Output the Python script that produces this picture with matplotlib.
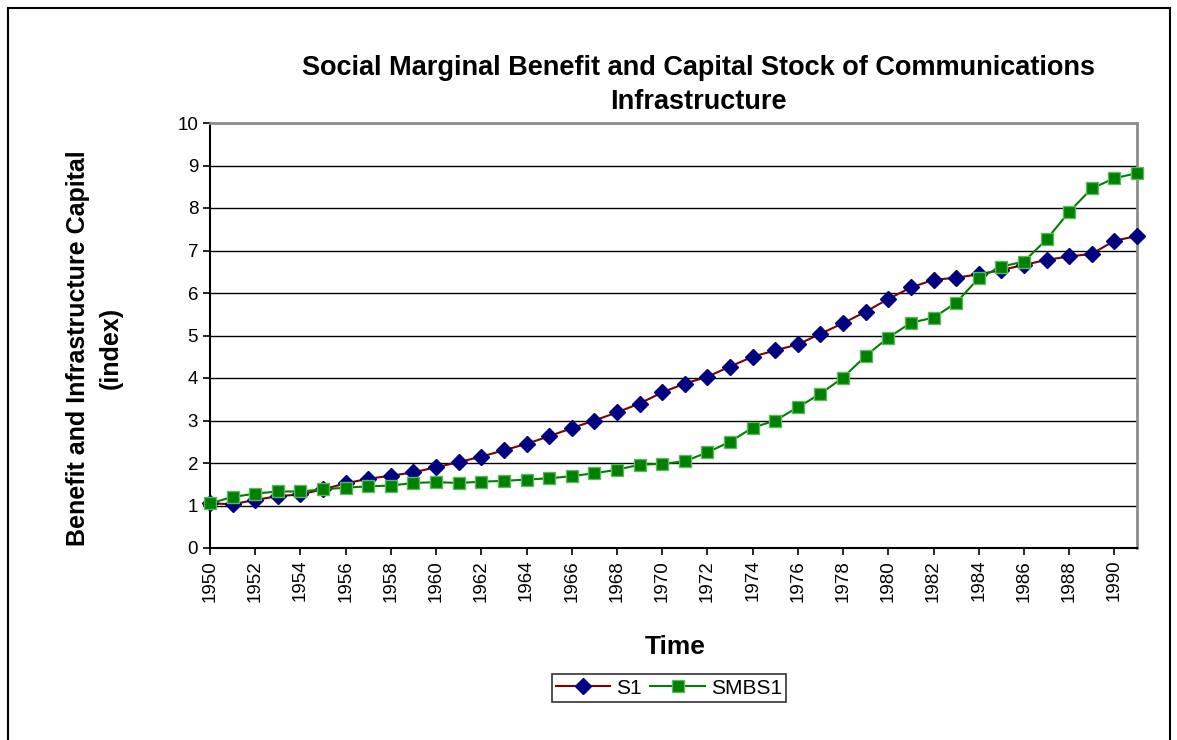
import matplotlib.pyplot as plt
from matplotlib.patches import Rectangle

plt.rcParams['font.family'] = ['Liberation Sans', 'DejaVu Sans']

# Дані
years = list(range(1950, 1992))
s1 = [1.05, 1.03, 1.13, 1.22, 1.26, 1.38, 1.52, 1.63, 1.70, 1.78, 1.90, 2.02,
      2.15, 2.30, 2.45, 2.63, 2.82, 3.00, 3.19, 3.40, 3.66, 3.87, 4.03, 4.27,
      4.50, 4.65, 4.79, 5.04, 5.29, 5.56, 5.86, 6.13, 6.31, 6.36, 6.44, 6.54,
      6.66, 6.78, 6.86, 6.92, 7.23, 7.34]
smbs1 = [1.05, 1.20, 1.28, 1.33, 1.33, 1.38, 1.42, 1.45, 1.47, 1.53, 1.55, 1.53,
         1.56, 1.58, 1.61, 1.64, 1.69, 1.76, 1.84, 1.96, 1.98, 2.04, 2.25, 2.50,
         2.83, 3.00, 3.31, 3.63, 4.01, 4.52, 4.95, 5.30, 5.42, 5.77, 6.35, 6.62,
         6.74, 7.26, 7.91, 8.46, 8.70, 8.82]
xtick_years = list(range(1950, 1991, 2))
yticks = list(range(0, 11))

fig = plt.figure(figsize=(11.77, 7.4), dpi=100)
ax = fig.add_axes([210 / 1177, 1 - 548 / 740, (1137 - 210) / 1177, (548 - 123) / 740])

# рамка навколо всієї картинки
fig.patches.append(Rectangle((8 / 1177, -0.05), (1170 - 8) / 1177, 1.05 - 8 / 740,
                             transform=fig.transFigure, fill=False,
                             edgecolor='black', linewidth=1.5))

for y in yticks[1:-1]:
    ax.axhline(y, color='black', linewidth=1.0, zorder=1)

ax.plot(years, s1, color='#800000', linewidth=1.5, marker='D', markersize=8,
        markerfacecolor='#000080', markeredgecolor='#000080', label='S1',
        clip_on=False, zorder=3)
ax.plot(years, smbs1, color='#008000', linewidth=1.5, marker='s', markersize=9,
        markerfacecolor='#008000', markeredgecolor='#5cb85c', markeredgewidth=1.0,
        label='SMBS1', clip_on=False, zorder=4)

ax.set_xlim(1950, 1991)
ax.set_ylim(0, 10)
ax.set_xticks(xtick_years)
ax.set_xticklabels([str(y) for y in xtick_years], rotation=90, fontsize=13.5)
ax.set_yticks(yticks)
ax.set_yticklabels([str(y) for y in yticks], fontsize=13.5)
ax.tick_params(direction='out', length=5, width=1.2, color='black')

ax.spines['left'].set_color('black')
ax.spines['left'].set_linewidth(1.5)
ax.spines['bottom'].set_color('black')
ax.spines['bottom'].set_linewidth(1.5)
ax.spines['top'].set_color('#8c8c8c')
ax.spines['top'].set_linewidth(2)
ax.spines['right'].set_color('#8c8c8c')
ax.spines['right'].set_linewidth(2)

fig.text(698 / 1177, 1 - 68 / 740, 'Social Marginal Benefit and Capital Stock of Communications',
         ha='center', va='center', fontsize=19.5, fontweight='bold')
fig.text(698 / 1177, 1 - 102 / 740, 'Infrastructure',
         ha='center', va='center', fontsize=19.5, fontweight='bold')
fig.text(94 / 1177, 1 - 348 / 740, 'Benefit and Infrastructure Capital\n(index)',
         ha='center', va='center', rotation=90, fontsize=18, fontweight='bold',
         linespacing=1.45)
fig.text(675 / 1177, 1 - 647 / 740, 'Time', ha='center', va='center',
         fontsize=19, fontweight='bold')

leg = fig.legend(loc='center', bbox_to_anchor=(669 / 1177, 1 - 688 / 740), ncol=2,
                 fontsize=15, frameon=True, fancybox=False, edgecolor='black',
                 handlelength=2.6, handletextpad=0.3, columnspacing=0.4,
                 borderpad=0.2)
leg.get_frame().set_linewidth(1.2)

fig.savefig('out.png', dpi=100)
